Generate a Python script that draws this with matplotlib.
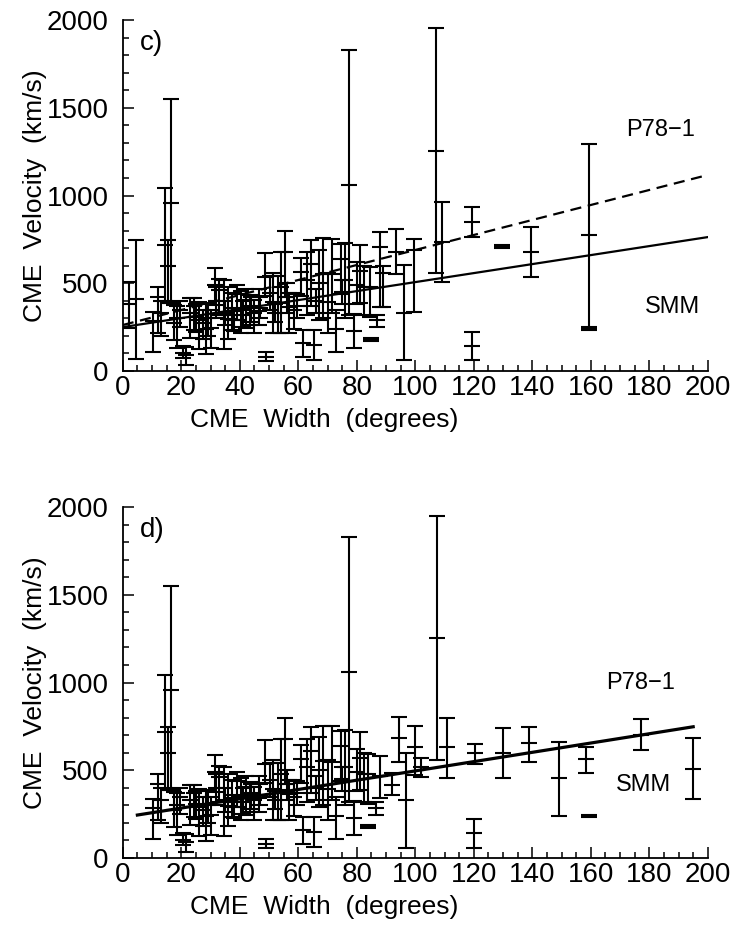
import numpy as np
import matplotlib
matplotlib.use("Agg")
import matplotlib.pyplot as plt
from matplotlib.ticker import MultipleLocator

plt.rcParams['font.family'] = ['Liberation Sans', 'DejaVu Sans']

# shared events (width in degrees, velocity, lower and upper velocity bound)
w_shared = [10.5, 12, 13, 14.5, 15.5, 16.5, 17.5, 18.5, 20.5, 21.5, 23, 24.5, 26, 27.5,
            28.5, 30, 31.5, 33, 34.5, 36, 37.5, 39, 40.5, 42, 43.5, 45, 46.5, 48.5, 49,
            50.5, 51.5, 53, 54, 55.5, 57, 58.5, 61, 61.5, 63, 64.5, 65.5, 67, 68.5, 70,
            71.5, 73, 74.5, 76, 77.5, 79, 80, 81, 82.5,
            19.5, 25, 29, 32, 35, 38, 41, 44, 47, 52, 56, 59.5, 66, 75]
v_shared = [285, 420, 330, 716, 598, 956, 272, 300, 105, 90, 330, 370, 290, 272,
            240, 245, 490, 460, 320, 295, 340, 440, 350, 405, 370, 330, 340, 535, 82,
            445, 395, 385, 480, 680, 365, 350, 565, 158, 520, 610, 148, 500, 555, 395,
            550, 240, 640, 520, 1060, 230, 490, 570, 480,
            350, 310, 300, 400, 330, 290, 320, 360, 360, 330, 420, 370, 400, 450]
lo_shared = [110, 215, 200, 400, 390, 386, 177, 130, 75, 35, 190, 235, 125, 180,
             95, 130, 375, 320, 125, 180, 235, 290, 215, 245, 260, 215, 260, 425, 55,
             350, 215, 215, 215, 420, 215, 240, 425, 82, 320, 370, 63, 290, 300, 215,
             330, 110, 440, 300, 320, 130, 380, 385, 320,
             250, 220, 200, 300, 260, 230, 250, 280, 300, 280, 330, 300, 330, 380]
hi_shared = [338, 477, 400, 1042, 745, 1551, 376, 370, 140, 135, 418, 418, 395, 350,
             385, 345, 585, 525, 520, 480, 445, 490, 455, 470, 435, 405, 465, 670, 110,
             540, 560, 540, 680, 800, 445, 445, 645, 234, 680, 745, 234, 690, 755, 560,
             750, 350, 725, 730, 1829, 325, 620, 720, 600,
             400, 380, 380, 480, 400, 360, 400, 420, 420, 380, 500, 440, 470, 520]

# events only in panel c (narrow and wide)
w_c = [2, 4.5, 84.5, 85, 87, 88, 89, 93.5, 96, 99.5, 107, 109, 119.5, 119.5, 129.5,
       139.5, 159.5, 159.5]
v_c = [380, 408, 481, 180, 290, 708, 560, 680, 329, 690, 1256, 737, 851, 142, 708,
       676, 775, 240]
lo_c = [245, 70, 310, 172, 253, 366, 366, 553, 63, 338, 556, 509, 765, 63, 700,
        537, 243, 232]
hi_c = [505, 746, 594, 188, 319, 794, 600, 807, 604, 750, 1953, 965, 936, 224, 716,
        822, 1293, 248]

# events only in panel d
w_d = [84, 84, 86.5, 88, 92, 94.5, 97, 100, 102, 107.5, 111, 120.5, 120, 130, 139,
       149, 158.5, 159.5, 177, 195]
v_d = [481, 179, 283, 470, 416, 682, 330, 631, 520, 1252, 631, 596, 141, 600, 653,
       454, 562, 239, 701, 507]
lo_d = [310, 171, 245, 340, 359, 549, 55, 473, 463, 558, 454, 536, 55, 454, 549,
        239, 486, 232, 615, 334]
hi_d = [594, 187, 321, 580, 482, 805, 596, 752, 568, 1949, 796, 650, 220, 743, 748,
        663, 631, 246, 792, 686]

# linear fits: (x0, v0, x1, v1)
fit_c_smm = [0, 250, 200, 763]
fit_c_p78 = [0, 262, 200, 1117]
fit_d = [5, 245, 195, 748]

fig = plt.figure(figsize=(7.35, 9.27), dpi=100)
ax_c = fig.add_axes([0.167, 0.5998, 0.796, 0.3786])
ax_d = fig.add_axes([0.167, 0.0744, 0.796, 0.3786])


def draw_bars(ax, w, v, lo, hi):
    v = np.array(v)
    err = [v - np.array(lo), np.array(hi) - v]
    ax.errorbar(w, v, yerr=err, fmt='_', color='black', ms=11, mew=1.5,
                elinewidth=1.5, capsize=5.5, capthick=1.5)


def style(ax, tag):
    ax.set_xlim(0, 200)
    ax.set_ylim(0, 2000)
    ax.spines['top'].set_visible(False)
    ax.spines['right'].set_visible(False)
    ax.spines['left'].set_linewidth(1.3)
    ax.spines['bottom'].set_linewidth(1.3)
    ax.xaxis.set_major_locator(MultipleLocator(20))
    ax.xaxis.set_minor_locator(MultipleLocator(5))
    ax.yaxis.set_major_locator(MultipleLocator(500))
    ax.yaxis.set_minor_locator(MultipleLocator(100))
    ax.tick_params(which='both', direction='in', width=1.1, labelsize=20)
    ax.tick_params(which='major', length=8)
    ax.tick_params(which='minor', length=4)
    ax.tick_params(axis='x', pad=3)
    ax.tick_params(axis='y', pad=10)
    ax.set_xlabel('CME  Width  (degrees)', fontsize=19)
    ax.set_ylabel('CME  Velocity  (km/s)', fontsize=19)
    ax.xaxis.set_label_coords(0.344, -0.105)
    ax.yaxis.set_label_coords(-0.13, 0.5)
    ax.text(10, 1870, tag, fontsize=20, ha='center', va='center')


draw_bars(ax_c, w_shared, v_shared, lo_shared, hi_shared)
draw_bars(ax_c, w_c, v_c, lo_c, hi_c)
ax_c.plot(fit_c_smm[::2], fit_c_smm[1::2], color='black', lw=1.6)
ax_c.plot(fit_c_p78[::2], fit_c_p78[1::2], color='black', lw=1.6, ls=(0, (5, 3)))
ax_c.text(184, 1373, 'P78\u22121', fontsize=17, ha='center', va='center')
ax_c.text(188, 365, 'SMM', fontsize=17, ha='center', va='center')
style(ax_c, 'c)')

draw_bars(ax_d, w_shared, v_shared, lo_shared, hi_shared)
draw_bars(ax_d, w_d, v_d, lo_d, hi_d)
ax_d.plot(fit_d[::2], fit_d[1::2], color='black', lw=2.3)
ax_d.text(177, 997, 'P78\u22121', fontsize=17, ha='center', va='center')
ax_d.text(178, 416, 'SMM', fontsize=17, ha='center', va='center')
style(ax_d, 'd)')

fig.savefig('out.png', dpi=100)
